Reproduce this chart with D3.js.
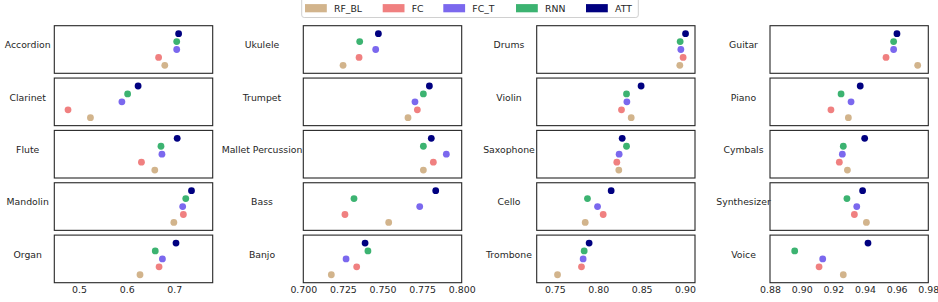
<!DOCTYPE html>
<html>
<head>
<meta charset="utf-8">
<script src="https://cdnjs.cloudflare.com/ajax/libs/d3/7.8.5/d3.min.js"></script>
<style>
  body { margin: 0; background: #fff; }
  text { font-family: "DejaVu Sans", sans-serif; fill: #262626; }
</style>
</head>
<body>
<div id="chart"></div>
<script>
// models, drawn bottom (RF_BL) to top (ATT) inside every panel
var models = ["RF_BL", "FC", "FC_T", "RNN", "ATT"];
var colors = ["#d2b48c", "#f08080", "#7b68ee", "#3cb371", "#000080"];

// instruments, one column of the figure per array
var col1 = ["Accordion", "Clarinet", "Flute", "Mandolin", "Organ"];
var col2 = ["Ukulele", "Trumpet", "Mallet Percussion", "Bass", "Banjo"];
var col3 = ["Drums", "Violin", "Saxophone", "Cello", "Trombone"];
var col4 = ["Guitar", "Piano", "Cymbals", "Synthesizer", "Voice"];

// scores per instrument, in model order RF_BL, FC, FC_T, RNN, ATT
var scores = {
  "Accordion":         [0.680, 0.667, 0.705, 0.705, 0.709],
  "Clarinet":          [0.524, 0.477, 0.590, 0.602, 0.624],
  "Flute":             [0.659, 0.631, 0.674, 0.672, 0.706],
  "Mandolin":          [0.699, 0.719, 0.7175, 0.724, 0.736],
  "Organ":             [0.628, 0.668, 0.675, 0.660, 0.7035],
  "Ukulele":           [0.7251, 0.7352, 0.7457, 0.7356, 0.7474],
  "Trumpet":           [0.7661, 0.772, 0.7705, 0.7758, 0.7796],
  "Mallet Percussion": [0.7758, 0.7821, 0.7903, 0.7758, 0.7808],
  "Bass":              [0.7539, 0.7263, 0.7735, 0.732, 0.7836],
  "Banjo":             [0.7177, 0.7337, 0.727, 0.7408, 0.739],
  "Drums":             [0.894, 0.8978, 0.8952, 0.8944, 0.9006],
  "Violin":            [0.838, 0.8268, 0.833, 0.8326, 0.8494],
  "Saxophone":         [0.8237, 0.8214, 0.8241, 0.8326, 0.8276],
  "Cello":             [0.785, 0.8057, 0.7992, 0.7876, 0.8149],
  "Trombone":          [0.7531, 0.7807, 0.7826, 0.7838, 0.7895],
  "Guitar":            [0.9733, 0.9533, 0.9581, 0.9581, 0.9602],
  "Piano":             [0.9295, 0.9185, 0.9312, 0.9249, 0.937],
  "Cymbals":           [0.9289, 0.9238, 0.9257, 0.9263, 0.9398],
  "Synthesizer":       [0.9409, 0.9333, 0.9348, 0.9286, 0.9385],
  "Voice":             [0.9263, 0.911, 0.9133, 0.8956, 0.9419]
};

// shared x limits and ticks per column
var xDomains = [[0.4482, 0.7805], [0.700, 0.800], [0.7291, 0.9115], [0.88, 0.98]];
var xTicks = [[0.5, 0.6, 0.7], [0.700, 0.725, 0.750, 0.775, 0.800], [0.75, 0.80, 0.85, 0.90], [0.88, 0.90, 0.92, 0.94, 0.96, 0.98]];
var xFormats = [".1f", ".3f", ".2f", ".2f"];

var width = 938, height = 302;
var columns = [col1, col2, col3, col4];
var panelLeft = [54.3, 303.3, 536.7, 770];
var panelRight = [212.7, 461.7, 695, 928.3];
var labelCenter = [27.7, 262, 509, 743.5];
var panelTop = 25.7, panelH = 47.6, rowStep = 52.35;

var svg = d3.select("#chart").append("svg")
  .attr("width", width)
  .attr("height", height);

columns.forEach(function(names, c) {
  var x = d3.scaleLinear().domain(xDomains[c]).range([panelLeft[c], panelRight[c]]);

  names.forEach(function(name, r) {
    var top = panelTop + r * rowStep;
    var y = d3.scaleLinear().domain([-1, 5]).range([top + panelH, top]);
    var g = svg.append("g");

    g.append("rect")
      .attr("x", panelLeft[c])
      .attr("y", top)
      .attr("width", panelRight[c] - panelLeft[c])
      .attr("height", panelH)
      .attr("fill", "none")
      .attr("stroke", "#262626")
      .attr("stroke-width", 1.1);

    g.selectAll("circle")
      .data(scores[name])
      .enter().append("circle")
      .attr("cx", function(d) { return x(d); })
      .attr("cy", function(d, i) { return y(i); })
      .attr("r", 3.4)
      .attr("fill", function(d, i) { return colors[i]; });

    g.append("text")
      .attr("x", labelCenter[c])
      .attr("y", top + panelH / 2 - 1.2)
      .attr("text-anchor", "middle")
      .attr("font-size", "9.3px")
      .text(name);
  });

  // x axis under the last row
  var bottom = panelTop + 4 * rowStep + panelH;
  var axis = d3.axisBottom(x)
    .tickValues(xTicks[c])
    .tickFormat(d3.format(xFormats[c]))
    .tickSize(0)
    .tickPadding(4);
  var ax = svg.append("g")
    .attr("transform", "translate(0," + bottom + ")")
    .call(axis);
  ax.select(".domain").remove();
  ax.selectAll("text")
    .attr("font-size", "9.4px")
    .attr("font-family", "DejaVu Sans, sans-serif")
    .attr("fill", "#262626");
});

// legend across the top
var legendX = [305, 382.7, 443.3, 516, 586];
var legend = svg.append("g");
legend.append("rect")
  .attr("x", 301.7)
  .attr("y", -3)
  .attr("width", 336.6)
  .attr("height", 20.5)
  .attr("rx", 2.5)
  .attr("fill", "#fff")
  .attr("stroke", "#d0d0d0")
  .attr("stroke-width", 1);

legend.selectAll("g.item")
  .data(models)
  .enter().append("g")
  .attr("class", "item")
  .each(function(d, i) {
    var it = d3.select(this);
    it.append("rect")
      .attr("x", legendX[i])
      .attr("y", 4.1)
      .attr("width", 21.8)
      .attr("height", 8.2)
      .attr("fill", colors[i]);
    it.append("text")
      .attr("x", legendX[i] + 29)
      .attr("y", 11.8)
      .attr("font-size", "9.3px")
      .text(d);
  });
</script>
</body>
</html>
